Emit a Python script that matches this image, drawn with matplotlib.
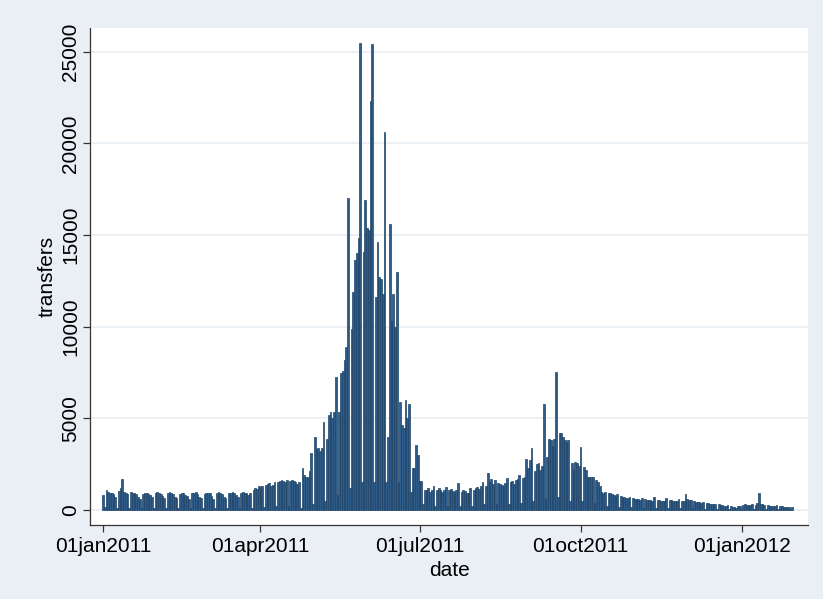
import pandas as pd
import matplotlib.pyplot as plt

# daily transfer counts, one row per week (Sat .. Fri), starting Sat 01jan2011
jan_mar = [
    800, 150, 1100, 1000, 950, 900, 850,
    700, 120, 1050, 1200, 1700, 1000, 900,
    850, 100, 1000, 950, 900, 850, 700,
    600, 100, 850, 900, 950, 850, 800,
    700, 100, 950, 1000, 900, 850, 750,
    650, 100, 900, 1000, 950, 850, 700,
    650, 100, 850, 950, 900, 800, 750,
    600, 100, 900, 950, 1000, 850, 700,
    650, 100, 850, 900, 950, 900, 750,
    600, 100, 950, 1000, 900, 850, 700,
    650, 100, 900, 950, 1000, 900, 800,
    700, 100, 950, 1000, 950, 900, 800,
    900, 100, 1100, 1200, 1150, 1300, 1250,
]
apr_jun = [
    1300, 150, 1350, 1400, 1450, 1300, 1350,
    1500, 200, 1550, 1600, 1650, 1600, 1550,
    1650, 200, 1600, 1650, 1600, 1500, 1400,
    1500, 100, 2300, 1900, 1800, 1800, 2100,
    3100, 300, 4000, 3300, 3400, 3200, 3400,
    4800, 500, 3900, 5200, 5350, 5000, 5350,
    7250, 800, 5350, 7500, 7600, 8200, 8900,
    17000, 1200, 9900, 11900, 13650, 14000, 14850,
    25500, 1500, 14100, 16900, 15400, 15300, 22300,
    25400, 1500, 11600, 14600, 12700, 12600, 11800,
    20600, 1500, 4000, 15600, 10300, 11800, 10000,
    13000, 1500, 5900, 4650, 4500, 6000, 5000,
    5800, 1000, 2300, 2300, 3550, 3000, 1600,
]
jul_sep = [
    1600, 300, 1100, 1100, 1200, 1000, 1100,
    1300, 200, 1100, 1200, 1100, 1000, 1100,
    1250, 200, 1100, 1150, 1050, 1000, 1100,
    1470, 200, 1000, 1100, 1050, 950, 900,
    1200, 200, 1100, 1200, 1250, 1150, 1300,
    1550, 300, 1300, 2040, 1500, 1700, 1400,
    1650, 300, 1450, 1400, 1350, 1300, 1450,
    1750, 300, 1500, 1600, 1400, 1640, 1700,
    1900, 400, 1750, 1800, 2800, 2300, 2700,
    3400, 500, 2100, 2500, 2550, 2200, 2400,
    5800, 600, 2900, 3900, 3800, 3500, 3900,
    7550, 700, 4200, 4200, 4000, 3800, 3700,
    3800, 500, 2550, 2200, 2600, 2550, 2400,
]
oct_jan = [
    3450, 500, 2370, 2200, 1800, 1820, 1800,
    1820, 400, 1640, 1500, 1300, 1000, 950,
    1000, 200, 950, 900, 850, 800, 780,
    850, 150, 750, 700, 700, 650, 650,
    700, 150, 650, 600, 620, 580, 560,
    650, 120, 580, 550, 540, 520, 500,
    700, 120, 550, 520, 500, 480, 500,
    650, 120, 560, 520, 500, 480, 470,
    600, 100, 500, 480, 870, 600, 550,
    550, 100, 480, 450, 430, 420, 400,
    450, 80, 400, 380, 350, 320, 300,
    350, 60, 300, 280, 260, 240, 220,
    250, 50, 200, 180, 150, 120, 200,
    200, 50, 250, 300, 280, 260, 250,
    300, 60, 280, 400, 930, 350, 300,
    280, 50, 250, 240, 230, 220, 210,
    250, 50, 200, 190, 180, 170, 160,
    180, 40, 150,
]

tick_dates = ["2011-01-01", "2011-04-01", "2011-07-01", "2011-10-01", "2012-01-01"]
tick_labels = ["01jan2011", "01apr2011", "01jul2011", "01oct2011", "01jan2012"]
y_ticks = [0, 5000, 10000, 15000, 20000, 25000]

transfers = jan_mar + apr_jun + jul_sep + oct_jan
dates = pd.date_range("2011-01-01", periods=len(transfers), freq="D")

plt.rcParams["font.family"] = ["Liberation Sans", "DejaVu Sans"]
plt.rcParams["font.size"] = 15

bg = "#e9eff4"
fig = plt.figure(figsize=(8.23, 5.99), dpi=100, facecolor=bg)
ax = fig.add_axes([90 / 823, 1 - 525 / 599, (808 - 90) / 823, (525 - 28) / 599])
ax.set_facecolor("white")

ax.bar(dates, transfers, width=1.0, color="#2e5b88", edgecolor="#1f4468",
       linewidth=0.5)

ax.set_xlim(dates[0] - pd.Timedelta(days=7.4), dates[0] + pd.Timedelta(days=403))
ax.set_ylim(-820, 26300)

ax.set_xticks(pd.to_datetime(tick_dates))
ax.set_xticklabels(tick_labels)
ax.set_yticks(y_ticks)
ax.set_yticklabels([str(v) for v in y_ticks], rotation=90, va="center")

ax.yaxis.grid(True, color="#e8eef3", linewidth=1.2)
ax.set_axisbelow(True)
for side in ["top", "right"]:
    ax.spines[side].set_visible(False)
for side in ["left", "bottom"]:
    ax.spines[side].set_color("#333333")
    ax.spines[side].set_linewidth(0.9)
ax.tick_params(length=5, width=0.9, color="#333333", pad=4)
ax.tick_params(axis="y", pad=2)

ax.set_xlabel("date", labelpad=3)
ax.set_ylabel("transfers", labelpad=3)

fig.savefig("out.png", dpi=100, facecolor=bg)
